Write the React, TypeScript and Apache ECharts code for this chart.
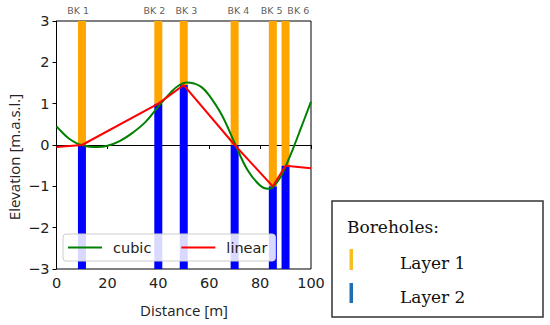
import React, { useEffect, useRef } from "react";
import * as echarts from "echarts";

// Borehole positions (m), layer boundary elevation (m.a.s.l.)
const boreholeNames = ["BK 1", "BK 2", "BK 3", "BK 4", "BK 5", "BK 6"];
const boreholeX = [10, 40, 50, 70, 85, 90];
const boundaryY = [0, 1, 1.45, 0, -1, -0.5];
// label anchor positions (shifted to avoid overlap, as in the reference)
const labelX = [8.5, 38.5, 51, 71.5, 84.5, 95];

// Linear interpolation line
const linearX = [0, 10, 40, 50, 70, 85, 90, 100];
const linearY = [-0.05, 0, 1, 1.45, 0, -1, -0.5, -0.56];

// Cubic interpolation line
const cubicX = [0, 2, 5, 8, 10, 13, 16, 20, 25, 30, 35, 40, 45, 48, 51, 54, 57, 60, 65, 70, 75, 80, 83, 85, 88, 90, 93, 96, 100];
const cubicY = [0.45, 0.32, 0.15, 0.04, 0.0, -0.04, -0.05, -0.02, 0.1, 0.3, 0.56, 0.93, 1.28, 1.44, 1.51, 1.49, 1.4, 1.2, 0.72, 0.05, -0.6, -0.98, -1.06, -1.02, -0.78, -0.52, -0.08, 0.4, 1.05];

const yMin = -3;
const yMax = 3;
const xTicks = { min: 0, max: 100, interval: 20 };

const fixMinus = (v: number) => String(v).replace("-", "\u2212");

export default function App() {
  const ref = useRef<HTMLDivElement>(null);
  useEffect(() => {
    if (!ref.current) return;
    const chart = echarts.init(ref.current, null, { renderer: "svg" });

    const upper = boreholeX.map((x, i) => [x, boundaryY[i], yMax]);
    const lower = boreholeX.map((x, i) => [x, yMin, boundaryY[i]]);
    const barRender = (color: string) => (params: any, api: any) => {
      const x = api.value(0);
      const lo = api.value(1);
      const hi = api.value(2);
      const p1 = api.coord([x, hi]);
      const p2 = api.coord([x, lo]);
      return {
        type: "rect",
        shape: { x: p1[0] - 4, y: p1[1], width: 8, height: p2[1] - p1[1] },
        style: { fill: color },
      };
    };

    const tickFont = { fontFamily: "DejaVu Sans", fontSize: 14.5, color: "#222" };

    chart.setOption({
      animation: false,
      grid: {
        left: 56.5,
        right: 239,
        top: 21,
        bottom: 56,
        show: true,
        borderColor: "#000",
        borderWidth: 1,
        backgroundColor: "transparent",
      },
      xAxis: {
        type: "value",
        min: xTicks.min,
        max: xTicks.max,
        interval: xTicks.interval,
        splitLine: { show: false },
        axisLine: { show: true, lineStyle: { color: "#000" } },
        axisTick: { show: true, length: 4, lineStyle: { color: "#000" } },
        axisLabel: { ...tickFont, margin: 6, formatter: (v: number) => fixMinus(v) },
      },
      yAxis: {
        type: "value",
        min: yMin,
        max: yMax,
        interval: 1,
        splitLine: { show: false },
        axisLine: { show: true, lineStyle: { color: "#000" } },
        axisTick: { show: true, length: 4, lineStyle: { color: "#000" } },
        axisLabel: { ...tickFont, margin: 7, formatter: (v: number) => fixMinus(v) },
      },
      legend: {
        left: 63,
        top: 234,
        data: ["cubic", "linear"],
        itemWidth: 34,
        itemHeight: 10,
        itemGap: 30,
        padding: [6, 8, 6, 5],
        backgroundColor: "rgba(255,255,255,0.85)",
        borderColor: "#ccc",
        borderWidth: 1,
        borderRadius: 3,
        icon: "path://M0,4 L34,4 L34,6 L0,6 Z",
        textStyle: { fontFamily: "DejaVu Sans", fontSize: 14.5, color: "#222", padding: [0, 0, 0, 6] },
      },
      series: [
        {
          type: "custom",
          name: "layer1",
          renderItem: barRender("#FFA500"),
          data: upper,
          encode: { x: 0, y: [1, 2] },
          z: 1,
        },
        {
          type: "custom",
          name: "layer2",
          renderItem: barRender("#0000FF"),
          data: lower,
          encode: { x: 0, y: [1, 2] },
          z: 1,
        },
        {
          type: "line",
          name: "cubic",
          data: cubicX.map((x, i) => [x, cubicY[i]]),
          smooth: 0.4,
          symbol: "none",
          lineStyle: { color: "#008000", width: 2 },
          itemStyle: { color: "#008000" },
          z: 3,
        },
        {
          type: "line",
          name: "linear",
          data: linearX.map((x, i) => [x, linearY[i]]),
          symbol: "none",
          lineStyle: { color: "#FF0000", width: 2 },
          itemStyle: { color: "#FF0000" },
          z: 4,
        },
        {
          type: "scatter",
          name: "labels",
          data: labelX.map((x, i) => ({ value: [x, yMax], name: boreholeNames[i] })),
          symbolSize: 1,
          itemStyle: { color: "transparent" },
          clip: false,
          silent: true,
          label: {
            show: true,
            position: "top",
            distance: 5,
            formatter: (p: any) => p.name,
            fontFamily: "DejaVu Sans",
            fontSize: 9.5,
            color: "#333",
          },
        },
      ],
      graphic: [
        {
          type: "text",
          x: 14,
          y: 157,
          rotation: Math.PI / 2,
          style: {
            text: "Elevation [m.a.s.l.]",
            fontFamily: "Open Sans",
            fontSize: 15,
            fill: "#222",
            align: "center",
            verticalAlign: "middle",
          },
        },
        {
          type: "text",
          x: 184,
          y: 310,
          style: {
            text: "Distance [m]",
            fontFamily: "Open Sans",
            fontSize: 15,
            fill: "#222",
            align: "center",
            verticalAlign: "middle",
          },
        },
        {
          type: "rect",
          shape: { x: 332, y: 201, width: 211, height: 116 },
          style: { fill: "#fff", stroke: "#333", lineWidth: 1.5 },
        },
        {
          type: "text",
          x: 347,
          y: 227,
          style: {
            text: "Boreholes:",
            fontFamily: "DejaVu Serif",
            fontSize: 17,
            fill: "#111",
            align: "left",
            verticalAlign: "middle",
          },
        },
        {
          type: "rect",
          shape: { x: 349.5, y: 249, width: 3.5, height: 21 },
          style: { fill: "#F6BE1E" },
        },
        {
          type: "text",
          x: 400,
          y: 263,
          style: {
            text: "Layer 1",
            fontFamily: "DejaVu Serif",
            fontSize: 17,
            fill: "#111",
            align: "left",
            verticalAlign: "middle",
          },
        },
        {
          type: "rect",
          shape: { x: 349.5, y: 283, width: 3.5, height: 20 },
          style: { fill: "#1F6FB5" },
        },
        {
          type: "text",
          x: 400,
          y: 297,
          style: {
            text: "Layer 2",
            fontFamily: "DejaVu Serif",
            fontSize: 17,
            fill: "#111",
            align: "left",
            verticalAlign: "middle",
          },
        },
      ],
    });
    return () => chart.dispose();
  }, []);
  return <div ref={ref} style={{ width: 550, height: 325, position: "absolute", left: 0, top: 0 }} />;
}
